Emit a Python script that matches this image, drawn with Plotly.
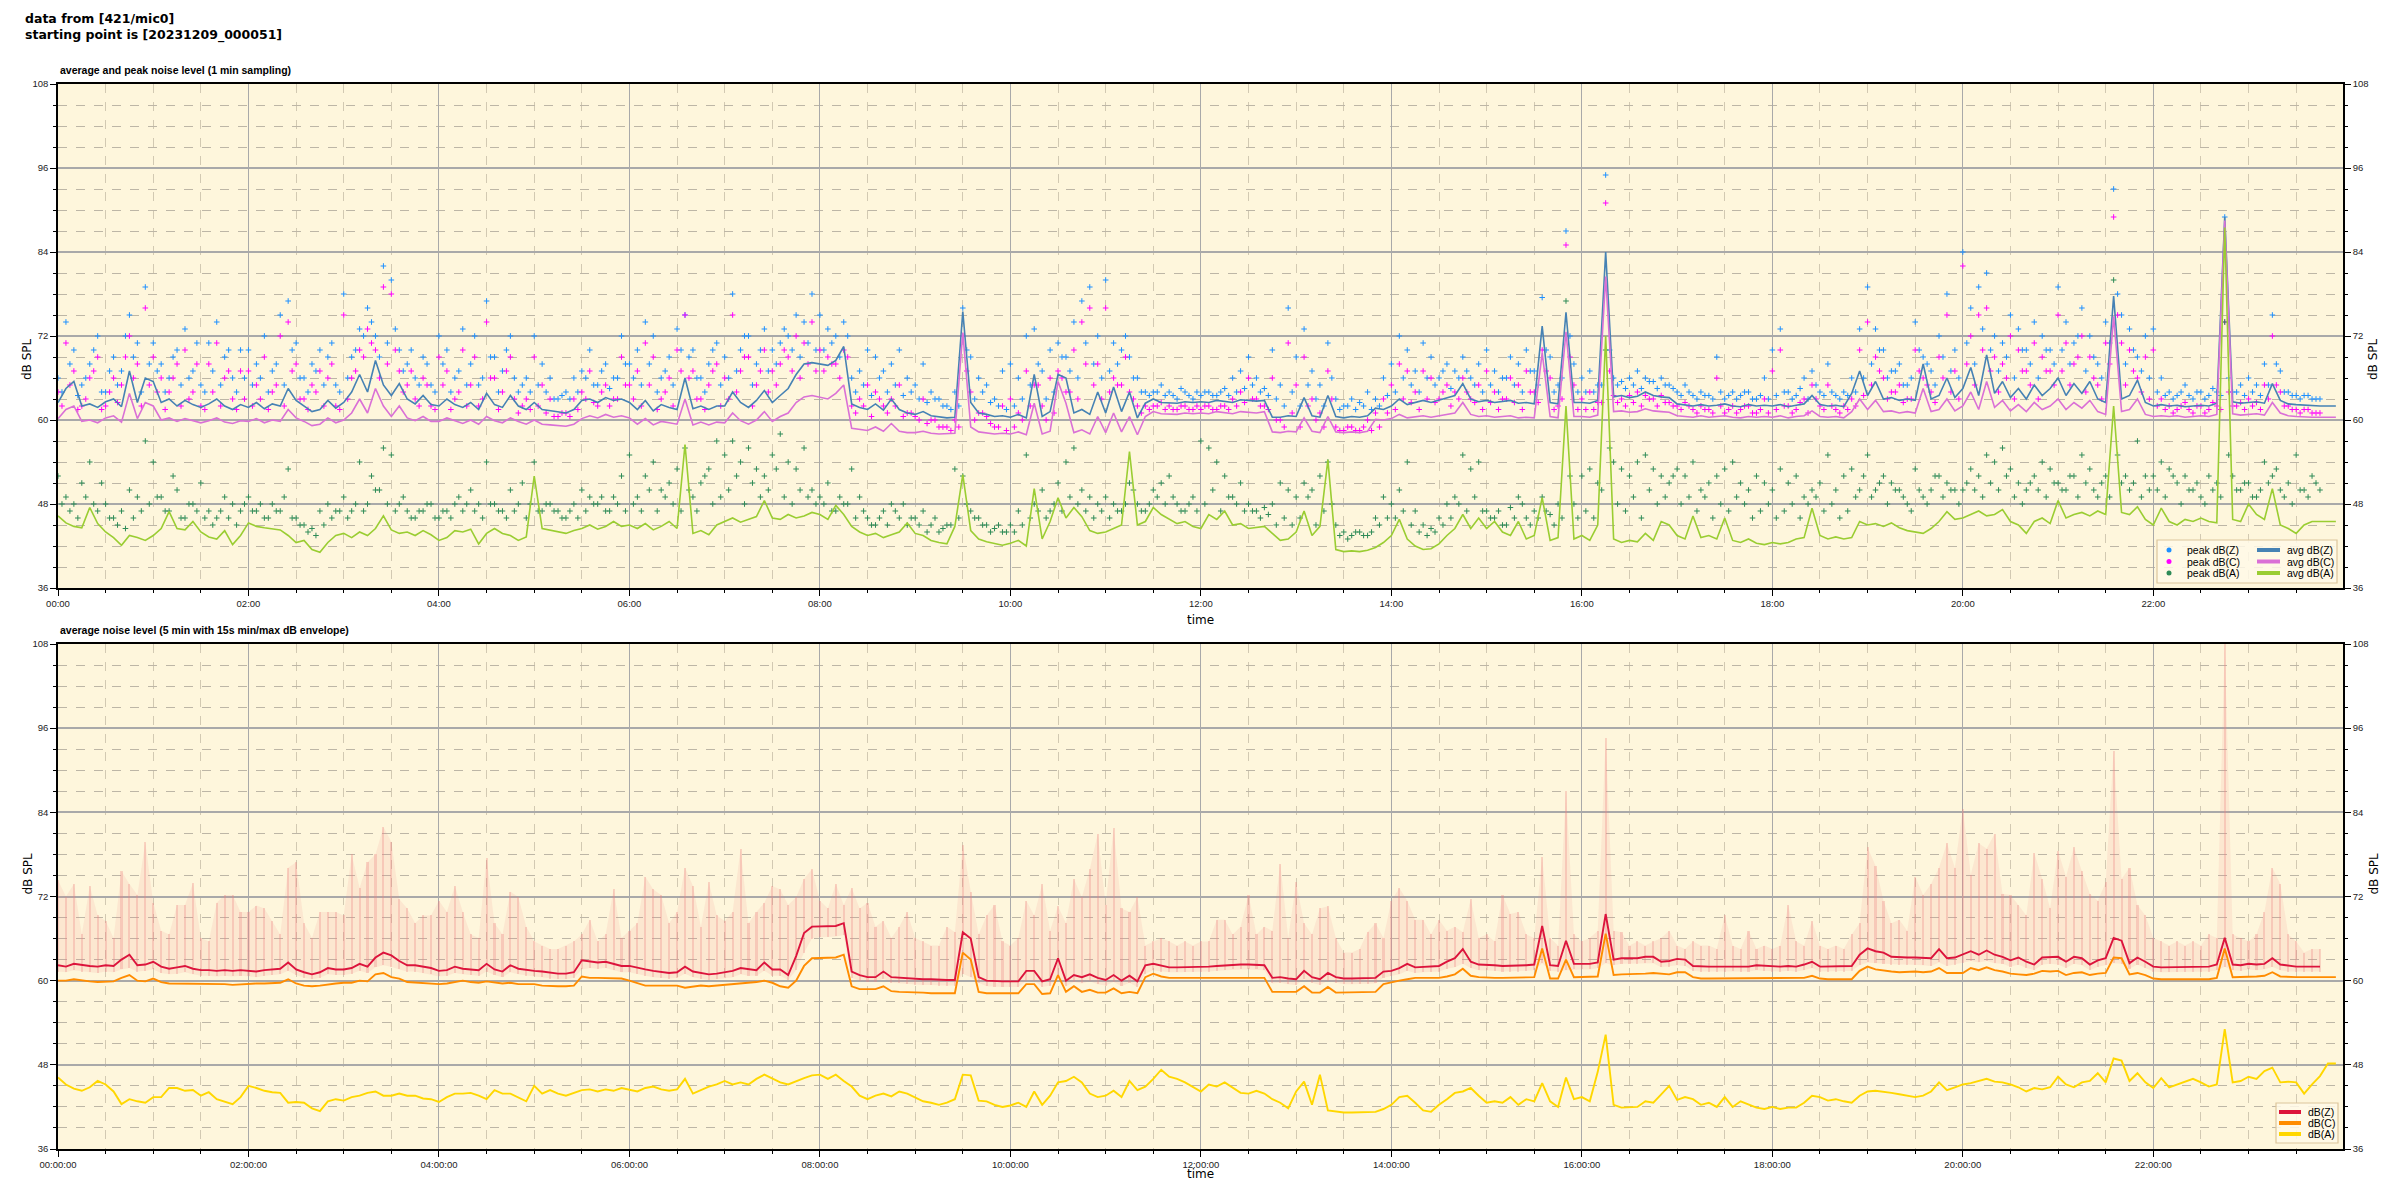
import pandas as pd
import plotly.graph_objects as go

# ---------------- data (5-min steps from 00:00) ----------------
AVG_Z = [
62.5, 64.5, 65.5, 62.0, 62.3, 61.8, 62.6, 63.0, 61.9, 67.0, 62.5, 66.0,
65.5, 62.5, 63.0, 62.0, 62.8, 62.2, 61.8, 62.3, 63.0, 62.0, 61.5, 62.2,
61.8, 62.5, 61.6, 62.3, 62.0, 64.5, 62.8, 62.0, 61.2, 61.5, 62.8, 61.7,
62.5, 64.0, 66.5, 64.0, 68.5, 65.0, 63.5, 65.2, 63.0, 62.3, 63.5, 62.2,
62.0, 63.0, 62.2, 61.8, 62.5, 61.5, 63.8, 62.2, 61.8, 63.5, 62.0, 61.5,
62.5, 61.5, 61.3, 61.2, 61.0, 61.5, 62.8, 63.0, 62.5, 63.2, 62.8, 63.0,
62.5, 61.5, 62.8, 61.3, 62.2, 61.8, 61.5, 66.0, 61.6, 62.0, 61.5, 62.0,
62.0, 64.0, 62.5, 61.8, 62.8, 64.2, 62.5, 63.5, 64.5, 66.5, 68.0, 68.2,
68.0, 67.8, 68.5, 70.5, 62.3, 61.8, 61.5, 62.3, 61.4, 63.0, 61.5, 61.0,
60.8, 61.2, 60.6, 60.5, 60.3, 60.4, 75.5, 62.5, 61.0, 60.8, 60.5, 60.6,
60.4, 60.8, 60.3, 66.5, 60.5, 61.2, 66.5, 66.0, 61.0, 61.5, 60.8, 64.0,
61.0, 64.7, 61.2, 64.0, 60.3, 62.4, 63.0, 62.5, 62.4, 62.4, 62.6, 62.5,
62.6, 62.5, 62.8, 62.6, 62.5, 62.9, 62.8, 62.7, 62.8, 60.4, 60.4, 60.6,
60.5, 63.2, 60.6, 60.4, 63.5, 60.5, 60.3, 60.5, 60.4, 60.6, 61.7, 61.5,
62.0, 63.0, 62.2, 62.5, 62.8, 62.5, 62.8, 63.2, 63.5, 65.2, 63.0, 62.6,
62.8, 62.5, 62.6, 62.8, 62.4, 62.5, 62.3, 73.4, 62.5, 62.3, 75.4, 62.5,
62.5, 62.4, 62.8, 84.0, 63.3, 63.5, 63.2, 63.4, 64.0, 63.5, 63.3, 63.2,
62.3, 62.1, 62.0, 62.2, 62.0, 62.1, 62.3, 62.0, 61.9, 62.2, 62.0, 62.1,
62.0, 62.2, 61.9, 62.1, 62.3, 63.5, 62.2, 62.0, 62.1, 61.9, 63.8, 67.0,
63.5, 65.5, 63.0, 63.2, 62.8, 63.0, 62.8, 68.0, 63.0, 63.5, 66.0, 63.2,
64.5, 67.5, 63.5, 69.3, 63.8, 65.5, 63.2, 64.5, 63.0, 65.0, 63.5, 64.5,
66.0, 63.5, 65.2, 63.8, 65.5, 63.0, 62.5, 77.7, 63.0, 63.5, 65.7, 62.5,
62.0, 62.2, 62.0, 62.1, 61.9, 62.0, 62.1, 62.0, 62.4, 89.0, 62.6, 62.4,
62.5, 62.6, 62.4, 65.2, 62.8, 62.3, 62.2, 62.1, 62.0, 62.0, 62.0, 62.0,
]

AVG_C = [
60.2, 61.5, 62.0, 59.8, 60.0, 59.6, 60.3, 60.6, 59.7, 63.8, 60.2, 62.5,
62.0, 60.0, 60.3, 59.8, 60.2, 59.9, 59.6, 59.9, 60.3, 59.7, 59.5, 59.9,
59.8, 60.2, 59.6, 60.0, 59.8, 61.5, 60.3, 59.8, 59.2, 59.4, 60.3, 59.6,
60.0, 61.0, 63.0, 61.0, 64.5, 62.0, 60.5, 62.0, 60.3, 59.9, 60.5, 59.8,
59.8, 60.3, 59.9, 59.5, 60.0, 59.4, 60.5, 59.9, 59.6, 60.3, 59.8, 59.4,
60.0, 59.4, 59.3, 59.2, 59.1, 59.4, 60.2, 60.6, 60.3, 60.8, 60.4, 60.6,
60.3, 59.4, 60.2, 59.3, 59.8, 59.6, 59.4, 63.0, 59.3, 59.7, 59.3, 59.7,
59.6, 61.0, 59.9, 59.4, 60.0, 61.2, 59.8, 60.5, 61.0, 62.5, 63.3, 63.5,
63.2, 63.0, 63.8, 65.0, 58.8, 58.6, 58.5, 59.0, 58.4, 59.5, 58.4, 58.2,
58.2, 58.4, 58.1, 58.0, 58.0, 58.1, 72.5, 59.0, 58.3, 58.2, 58.0, 58.1,
58.0, 58.3, 57.9, 62.4, 58.0, 58.4, 65.5, 62.4, 58.2, 58.6, 58.0, 60.5,
58.2, 61.0, 58.3, 60.5, 57.9, 60.5, 61.2, 60.9, 60.8, 60.8, 61.0, 60.9,
61.0, 60.9, 61.2, 61.0, 60.9, 61.2, 61.1, 61.0, 61.2, 58.3, 58.2, 58.4,
58.3, 60.3, 58.4, 58.2, 60.5, 58.3, 58.2, 58.3, 58.2, 58.4, 60.1, 60.0,
60.2, 60.8, 60.3, 60.5, 60.6, 60.4, 60.6, 60.9, 61.0, 62.5, 60.8, 60.5,
60.6, 60.4, 60.5, 60.6, 60.3, 60.4, 60.3, 69.6, 60.5, 60.3, 72.6, 60.5,
60.5, 60.4, 60.7, 80.5, 61.2, 61.3, 61.1, 61.2, 61.6, 61.3, 61.2, 61.1,
60.6, 60.5, 60.4, 60.6, 60.4, 60.5, 60.6, 60.4, 60.3, 60.5, 60.4, 60.5,
60.4, 60.6, 60.3, 60.5, 60.6, 61.3, 60.5, 60.4, 60.5, 60.3, 61.2, 63.0,
61.5, 62.8, 61.2, 61.3, 61.0, 61.2, 61.0, 64.5, 61.2, 61.5, 63.0, 61.3,
62.0, 64.0, 61.5, 65.5, 61.8, 62.8, 61.3, 62.2, 61.2, 62.5, 61.5, 62.0,
63.0, 61.5, 62.5, 61.7, 62.8, 61.2, 60.8, 74.8, 61.2, 61.5, 63.0, 60.8,
60.5, 60.6, 60.5, 60.6, 60.4, 60.5, 60.6, 60.5, 60.8, 88.5, 60.9, 60.7,
60.8, 60.9, 60.7, 62.5, 61.0, 60.6, 60.5, 60.4, 60.4, 60.4, 60.4, 60.4,
]

AVG_A = [
46.3, 45.3, 44.8, 44.6, 47.5, 45.2, 44.0, 43.2, 42.1, 43.5, 43.2, 42.8,
43.5, 44.5, 46.9, 44.5, 44.3, 45.5, 44.0, 43.3, 43.0, 44.2, 42.2, 43.5,
45.3, 44.8, 44.6, 44.5, 44.3, 43.5, 42.5, 42.8, 41.5, 41.1, 42.5, 43.5,
43.8, 43.2, 44.0, 43.5, 44.5, 46.3, 44.3, 43.8, 44.0, 43.5, 44.2, 43.6,
42.8, 43.2, 44.2, 44.0, 44.4, 42.3, 43.8, 44.5, 43.8, 43.5, 42.8, 43.3,
52.0, 44.5, 44.3, 44.0, 43.8, 44.2, 44.5, 45.0, 44.4, 44.8, 45.5, 44.8,
45.0, 44.5, 45.2, 44.3, 44.8, 45.5, 44.5, 56.5, 43.8, 44.2, 43.6, 45.0,
45.5, 46.0, 45.4, 45.8, 46.2, 48.5, 46.0, 45.8, 46.5, 46.0, 46.3, 46.8,
46.5, 45.8, 47.8, 46.5, 44.8, 44.0, 43.5, 43.8, 43.2, 43.6, 44.0, 45.3,
43.8, 43.5, 42.8, 42.5, 42.3, 44.8, 52.2, 44.2, 43.0, 42.6, 42.3, 42.1,
42.4, 42.8, 42.0, 50.2, 43.0, 45.5, 48.9, 46.0, 47.5, 46.2, 44.2, 43.8,
44.0, 44.5, 45.0, 55.5, 45.0, 45.5, 47.5, 46.5, 45.8, 45.2, 45.5, 44.8,
44.5, 46.5, 45.8, 47.0, 45.0, 45.2, 44.5, 44.6, 44.8, 43.8, 42.8, 43.0,
44.0, 47.0, 43.5, 44.8, 54.3, 41.5, 41.2, 41.3, 41.2, 41.4, 41.8, 42.5,
43.5, 45.8, 43.0, 42.0, 41.5, 41.6, 42.3, 43.5, 44.5, 46.5, 44.5, 46.0,
44.5, 45.5, 44.0, 43.5, 45.5, 43.0, 43.5, 48.9, 42.8, 43.2, 62.0, 43.0,
43.5, 42.8, 45.0, 72.0, 43.0, 42.5, 42.8, 42.6, 43.8, 42.8, 45.5, 45.0,
43.5, 43.0, 46.3, 43.2, 43.5, 43.0, 46.0, 42.8, 42.5, 43.0, 42.4, 42.2,
42.5, 42.3, 42.5, 43.0, 43.2, 47.4, 43.5, 43.0, 43.3, 43.0, 43.2, 45.5,
45.0, 45.2, 44.8, 45.3, 44.6, 44.2, 44.0, 43.8, 44.5, 45.5, 46.9, 45.8,
46.0, 46.5, 47.0, 46.3, 46.5, 47.2, 45.5, 45.0, 43.8, 45.5, 46.0, 45.2,
48.5, 46.0, 46.5, 46.8, 46.3, 47.0, 46.5, 62.0, 46.8, 46.5, 47.6, 45.8,
45.0, 47.4, 45.5, 45.0, 45.8, 45.5, 46.0, 45.5, 45.3, 87.5, 45.8, 45.5,
48.0, 46.5, 45.8, 50.2, 45.0, 44.5, 43.8, 45.0, 45.5, 45.5, 45.5, 45.5,
]

# peak values, first sample of each 5-min slot
PEAK_Z = [
66, 74, 70, 65, 68, 72, 64, 69, 67, 75, 71, 79,
71, 68, 66, 70, 73, 67, 65, 71, 74, 69, 66, 70,
70, 68, 72, 67, 75, 77, 71, 66, 68, 70, 69, 65,
78, 69, 73, 76, 72, 82, 80, 70, 68, 66, 69, 65,
72, 70, 66, 73, 68, 65, 77, 69, 67, 72, 64, 66,
72, 68, 66, 63, 64, 66, 67, 70, 65, 68, 66, 72,
68, 70, 74, 72, 66, 69, 73, 75, 70, 66, 68, 71,
69, 78, 70, 72, 68, 73, 70, 71, 72, 75, 74, 78,
75, 73, 72, 74, 66, 67, 70, 69, 67, 68, 70, 66,
65, 68, 64, 63, 62, 64, 76, 69, 66, 65, 63, 67,
68, 66, 72, 73, 67, 70, 71, 69, 74, 77, 79, 72,
80, 71, 70, 69, 66, 64, 64, 65, 64, 63, 64, 63,
63.5, 64, 63.5, 64.5, 66, 67, 69, 66, 64.5, 70, 65, 76,
69, 73, 67, 65, 71, 63, 62, 63, 62.5, 64, 63, 66,
68, 72, 70, 67, 71, 69, 66, 68, 67, 69, 66, 68,
70, 67, 66, 69, 68, 70, 67, 77.5, 69, 65, 87, 68,
66, 67, 65, 95, 66, 65.5, 66, 67, 66, 65.5, 66, 65,
64, 65, 63.5, 64, 63.5, 69, 63, 64, 63.5, 64, 63, 66,
70, 73, 64, 63.5, 66, 67, 64, 68, 63.5, 64, 66, 73,
79, 73, 70, 67, 68, 65, 74, 69, 67, 72, 78, 70,
84, 76, 79, 81, 72, 71, 75, 73, 70, 74, 72, 70,
79, 74, 71, 76, 72, 68, 74, 93, 75, 73, 69, 72,
73, 66, 64, 63.5, 65, 63, 64, 63.5, 64, 89, 64, 65,
66, 65, 68, 75, 67, 64, 63.5, 63.5, 63, 63, None, None,
]

PEAK_C = [
64, 71, 67, 62, 66, 69, 62, 66, 65, 72, 68, 76,
69, 66, 64, 68, 70, 64, 62, 68, 71, 66, 63, 67,
67, 65, 69, 64, 72, 74, 68, 63, 65, 67, 66, 62,
75, 66, 70, 73, 70, 79, 78, 67, 65, 63, 66, 62,
69, 67, 63, 70, 65, 62, 74, 66, 64, 69, 61, 63,
69, 65, 63, 60.5, 61, 63, 64, 67, 62, 65, 63, 69,
65, 67, 71, 69, 63, 66, 70, 75, 67, 63, 65, 68,
66, 75, 67, 69, 65, 70, 67, 68, 69, 72, 71, 74,
70, 69, 68, 70, 62, 63, 65, 64, 62, 63, 65, 61,
60.5, 63, 60, 59, 59, 60, 72, 64, 61, 60.5, 59, 62,
63, 61, 67, 65, 62, 66, 67, 64, 70, 74, 76, 68,
76, 66, 65, 64, 62, 62, 62, 62.5, 62, 61.5, 62, 61.5,
61.5, 62, 61.5, 62, 63, 64, 66, 63, 62, 66, 60, 71,
65, 69, 63, 61, 67, 59, 58.5, 59, 58.5, 60, 61, 63,
65, 68, 67, 64, 67, 66, 63, 65, 64, 66, 63, 65,
67, 64, 63, 66, 65, 67, 64, 70, 66, 62, 85, 65,
63, 64, 62.5, 91, 63.5, 63, 63.5, 64, 63.5, 63, 63.5, 62.5,
62, 62.5, 61.5, 62, 61.5, 66, 61, 62, 61.5, 62, 61, 63,
67, 70, 62, 61.5, 63, 65, 62, 65, 61.5, 62, 63, 70,
74, 69, 66, 64, 65, 63, 70, 66, 64, 69, 75, 67,
82, 72, 75, 76, 69, 68, 72, 70, 67, 71, 69, 67,
75, 71, 68, 72, 69, 65, 71, 89, 71, 70, 66, 69,
70, 63, 62, 61.5, 62.5, 61, 62, 61.5, 62, 74, 62, 62.5,
63, 62.5, 65, 72, 64, 62, 61.5, 61.5, 61, 61, None, None,
]

PEAK_A = [
52, 49, 48, 51, 54, 47, 48, 46, 47, 50, 49, 57,
54, 49, 47, 50, 46, 48, 51, 47, 46, 49, 48, 47,
49, 47, 46, 48, 47, 53, 46, 45, 44.5, 47, 48, 47,
49, 47, 54, 48, 50, 56, 55, 48, 47, 46, 47, 48,
46, 47, 48, 47, 50, 48, 54, 48, 47, 50, 48, 46,
54, 47, 48, 47, 46, 48, 50, 49, 48, 47, 49, 52,
55, 49, 52, 54, 50, 51, 53, 56, 49, 51, 53, 57,
55, 57, 54, 56, 53, 52, 55, 58, 54, 53, 56, 50,
49, 51, 47, 48, 53, 49, 46, 45, 47, 48, 46, 45,
46, 47, 45, 44, 45, 53, 52, 47, 46, 45, 44.5, 44,
45, 47, 55, 48, 50, 47, 51, 54, 56, 50, 49, 48,
49, 48, 47, 51, 48, 47, 50, 51, 52, 48, 47, 49,
57, 56, 54, 52, 49, 51, 48, 47, 47.5, 48, 51, 50,
49, 51, 50, 52, 54, 45, 44, 43.5, 44, 43.5, 46, 49,
48, 50, 54, 47, 45, 44.5, 46, 48, 49, 55, 53, 54,
47, 46, 45, 47.5, 49, 46, 47, 49, 46.5, 48, 77, 48,
52, 53, 51, 70, 54, 53, 52, 54, 55, 53, 52, 51,
53, 52, 54, 50, 51, 52, 53, 54, 51, 50, 52, 51,
50, 53, 51, 52, 49, 50, 51, 55, 50, 52, 53, 50,
55, 50, 52, 51, 50, 48, 53, 49, 50, 52, 51, 50,
50, 53, 52, 55, 54, 56, 53, 51, 50, 52, 54, 53,
51, 50, 52, 55, 53, 49, 52, 80, 51, 50, 57, 52,
52, 54, 53, 51, 52, 50, 49, 52, 51, 74, 52, 50,
51, 49, 54, 52, 50, 51, 55, 50, 52, 50, None, None,
]

# peak values, second sample of each 5-min slot (+2.5 min)
PEAK_Z_B = [
64, 68, 63.5, 66, 70, 64, 67, 65, 72, 69, 64, 68,
67, 64, 69, 65, 66, 71, 64, 67, 65, 70, 64, 66,
65, 66, 64, 68, 65, 70, 66, 64, 67, 65, 71, 64,
66, 70, 72, 74, 69, 71, 73, 67, 70, 65, 68, 64,
68, 64, 67, 65, 72, 66, 69, 64, 70, 66, 65, 64,
65, 64, 63, 63.5, 63, 64, 66, 65, 67, 64.5, 66, 68,
66, 65, 68, 64, 67, 65, 70, 69, 66, 64, 70, 65,
66, 67, 72, 65, 70, 67, 68, 73, 70, 69, 71, 70,
70, 71, 69, 72, 64, 65, 63.5, 66, 64, 65, 63.5, 64,
63, 62.5, 63, 62, 61.5, 62, 70, 63, 64, 62.5, 62, 61.5,
62, 63, 65, 68, 63, 64, 69, 67, 66, 71, 68, 66,
67, 68, 72, 66, 64, 63.5, 64, 63.5, 63.5, 64.5, 63.5, 64,
64, 63.5, 64, 63.5, 64, 64.5, 65, 64, 63.5, 63, 62, 64,
62, 65, 63, 62, 66, 61.5, 62, 61.5, 62, 61.5, 62, 63.5,
64, 66, 65, 64, 66, 65, 67, 64.5, 66, 67, 65, 64,
65, 64, 66, 65, 64, 67, 65, 70, 64, 66, 72, 64,
64, 64, 65, 70, 65, 64.5, 65, 64.5, 65.5, 64.5, 65, 64.5,
63.5, 64, 63, 63.5, 63, 64, 63.5, 63, 64, 63, 63.5, 63,
63.5, 64, 63, 64.5, 63, 65, 63.5, 64, 63, 63.5, 64, 66,
68, 70, 66, 67, 65, 66, 70, 68, 65, 69, 67, 66,
71, 68, 73, 70, 67, 69, 66, 70, 68, 66, 70, 68,
70, 68, 72, 67, 69, 66, 71, 78, 68, 70, 67, 66,
64, 63.5, 63, 64, 63.5, 64, 63, 64.5, 63.5, 66, 64, 63.5,
64, 63.5, 65, 68, 64, 63.5, 63, 63.5, 63, None, None, None,
]

PEAK_C_B = [
62, 65, 61.5, 63, 67, 61.5, 64, 62.5, 69, 66, 62, 65,
64, 61.5, 66, 62, 63, 68, 61.5, 64, 62, 67, 61.5, 63,
62, 63, 61.5, 65, 62, 67, 63, 61.5, 64, 62, 68, 61.5,
63, 67, 69, 71, 66, 68, 70, 64, 67, 62, 65, 61.5,
65, 61.5, 64, 62, 69, 63, 66, 61.5, 67, 63, 62, 61.5,
62, 61, 60.5, 61, 60.5, 61.5, 63, 62.5, 64, 62, 63, 65,
63, 62, 65, 61.5, 64, 62, 67, 66, 63, 61.5, 67, 62,
63, 64, 69, 62, 67, 64, 65, 70, 67, 66, 68, 67,
67, 68, 66, 69, 61, 62, 60.5, 63, 61, 62, 60.5, 61,
60, 59.5, 60, 59, 58.5, 59, 67, 60, 61, 59.5, 59, 58.5,
59, 60, 62, 65, 60, 61, 66, 64, 63, 68, 65, 63,
64, 65, 69, 63, 61, 61.5, 62, 61.5, 61.5, 62, 61.5, 62,
62, 61.5, 62, 61.5, 62, 62.5, 63, 62, 61.5, 60, 59, 61,
59, 62, 60, 59, 63, 58.5, 59, 58.5, 59, 58.5, 59, 61,
61.5, 63, 62.5, 61.5, 63, 62.5, 64, 62, 63, 64, 62.5, 61.5,
62.5, 61.5, 63, 62.5, 61.5, 64, 62.5, 67, 61.5, 63, 69, 61.5,
61.5, 61.5, 62.5, 67, 62.5, 62, 62.5, 62, 63, 62, 62.5, 62,
61.5, 62, 61, 61.5, 61, 62, 61.5, 61, 62, 61, 61.5, 61,
61.5, 62, 61, 62.5, 61, 63, 61.5, 62, 61, 61.5, 62, 63.5,
65, 67, 63, 64, 62.5, 63, 67, 65, 62.5, 66, 64, 63,
68, 65, 70, 67, 64, 66, 63, 67, 65, 63, 67, 65,
67, 65, 69, 64, 66, 63, 68, 75, 65, 67, 64, 63,
62, 61.5, 61, 62, 61.5, 62, 61, 62.5, 61.5, 64, 62, 61.5,
62, 61.5, 63, 65, 62, 61.5, 61, 61.5, 61, None, None, None,
]

PEAK_A_B = [
48, 47, 46, 49, 48, 51, 46, 45, 44.5, 46, 47, 48,
49, 47, 52, 46, 48, 47, 46, 45, 47, 46, 45, 48,
47, 48, 46, 47, 49, 46, 45, 44, 43.5, 45, 46, 47,
46, 48, 47, 52, 50, 48, 47, 49, 46, 47, 48, 46,
47, 46, 49, 48, 47, 46, 48, 47, 46, 47, 51, 48,
47, 48, 47, 46, 47, 46, 47, 48, 49, 47, 48, 47,
48, 47, 50, 47, 49, 48, 47, 50, 47, 52, 48, 49,
50, 52, 48, 51, 49, 50, 53, 49, 48, 50, 49, 48,
48, 47, 49, 48, 46, 47, 45, 46, 45, 47, 48, 46,
45, 44, 46, 44.5, 45, 46, 48, 46, 45, 44, 45, 44,
44, 45, 46, 47, 46, 48, 47, 49, 48, 47, 46, 47,
46, 47, 48, 50, 47, 48, 49, 48, 49, 47, 48, 47,
48, 50, 47, 49, 48, 47, 47, 46, 46.5, 45, 46, 45,
46, 49, 45, 47, 48, 43.5, 43, 44, 43.5, 44, 45, 46,
46, 47, 45, 44, 43.5, 44, 45, 46, 48, 47, 49, 47,
46, 47, 45, 46, 48, 45, 46, 47, 45, 46, 52, 46,
47, 46, 50, 56, 48, 47, 49, 46, 50, 48, 49, 52,
48, 49, 47, 49, 46, 48, 47, 49, 48, 46, 47, 48,
46, 47, 48, 46, 48, 49, 47, 48, 46, 47, 49, 52,
49, 51, 48, 50, 49, 47, 50, 48, 52, 49, 50, 48,
51, 50, 49, 51, 50, 52, 49, 48, 51, 50, 49, 51,
50, 52, 49, 51, 50, 51, 49, 55, 52, 51, 49, 50,
50, 49, 52, 48, 50, 51, 48, 50, 49, 55, 50, 51,
49, 50, 51, 53, 49, 48, 50, 49, 51, None, None, None,
]

LVL_Z = [
62.2, 62.0, 62.4, 62.2, 62.1, 62.0, 62.2, 62.1, 63.0, 63.7, 62.2, 62.3,
62.7, 62.0, 61.7, 61.9, 62.1, 61.7, 61.5, 61.5, 61.4, 61.5, 61.4, 61.5,
61.4, 61.3, 61.5, 61.6, 61.7, 62.6, 61.6, 61.2, 60.9, 61.2, 61.8, 61.6,
61.6, 61.8, 62.4, 62.0, 63.3, 64.0, 63.6, 62.8, 62.2, 62.2, 62.0, 61.8,
61.4, 61.5, 62.0, 61.7, 61.6, 61.5, 62.4, 61.6, 61.3, 62.2, 61.7, 61.5,
61.4, 61.3, 61.1, 61.0, 61.0, 61.2, 62.9, 62.7, 62.6, 62.7, 62.4, 62.1,
62.1, 61.8, 61.6, 61.4, 61.2, 61.1, 61.2, 62.0, 61.3, 61.1, 60.9, 61.0,
61.2, 61.4, 61.8, 61.6, 61.5, 62.6, 61.6, 61.6, 60.8, 63.5, 66.8, 67.7,
67.7, 67.7, 67.8, 68.2, 61.3, 60.8, 60.5, 60.5, 61.3, 60.5, 60.4, 60.3,
60.2, 60.2, 60.2, 60.1, 60.1, 60.1, 66.9, 66.0, 60.5, 60.0, 59.9, 59.9,
59.9, 59.9, 61.4, 61.4, 59.9, 60.2, 63.2, 60.0, 60.8, 60.5, 60.9, 60.4,
60.1, 60.8, 60.0, 60.7, 59.9, 62.2, 62.4, 62.1, 61.9, 61.9, 61.9, 61.9,
62.0, 62.0, 62.1, 62.2, 62.3, 62.3, 62.3, 62.3, 62.2, 60.4, 60.5, 60.3,
60.2, 61.4, 60.5, 60.2, 61.1, 60.5, 60.3, 60.3, 60.3, 60.3, 60.4, 61.3,
61.4, 61.8, 62.4, 61.9, 62.0, 62.1, 62.1, 62.7, 63.2, 64.5, 62.7, 62.3,
62.3, 62.2, 62.1, 62.1, 62.1, 62.2, 62.3, 67.8, 62.2, 62.1, 65.7, 62.4,
62.4, 62.4, 62.6, 69.5, 63.0, 63.2, 63.2, 63.2, 63.4, 63.4, 62.7, 62.8,
63.1, 63.0, 62.1, 62.0, 62.0, 62.0, 62.0, 62.1, 62.0, 62.0, 62.2, 62.1,
62.0, 62.0, 62.1, 62.0, 62.3, 62.7, 62.0, 62.0, 62.0, 62.0, 62.1, 63.7,
64.6, 64.2, 64.0, 63.4, 63.3, 63.3, 63.3, 63.3, 63.2, 64.5, 63.2, 63.3,
63.7, 64.2, 63.7, 64.3, 63.7, 63.4, 62.9, 63.3, 62.7, 62.3, 63.3, 63.4,
63.4, 62.7, 63.4, 63.2, 62.3, 62.9, 63.2, 66.1, 65.7, 62.5, 63.3, 62.7,
62.0, 61.9, 61.9, 61.9, 61.9, 61.9, 61.9, 62.0, 62.3, 66.1, 62.3, 62.2,
62.4, 62.3, 62.4, 63.2, 62.3, 62.1, 62.0, 62.0, 62.0, 62.0, None, None,
]

LVL_C = [
60.0, 60.0, 60.2, 60.0, 59.9, 59.8, 59.9, 59.9, 60.4, 60.8, 60.0, 59.9,
60.3, 59.8, 59.6, 59.6, 59.5, 59.5, 59.5, 59.5, 59.5, 59.5, 59.4, 59.5,
59.5, 59.6, 59.6, 59.6, 59.7, 60.2, 59.6, 59.3, 59.2, 59.3, 59.5, 59.6,
59.7, 59.7, 60.0, 59.9, 60.9, 61.1, 60.5, 60.3, 59.8, 59.7, 59.7, 59.6,
59.5, 59.6, 59.8, 60.0, 59.8, 59.7, 59.9, 59.8, 59.6, 59.7, 59.5, 59.5,
59.5, 59.3, 59.2, 59.2, 59.2, 59.3, 60.6, 60.4, 60.4, 60.4, 60.4, 60.3,
60.0, 59.6, 59.3, 59.3, 59.3, 59.2, 59.3, 59.0, 59.2, 59.3, 59.2, 59.3,
59.3, 59.5, 59.6, 59.7, 59.8, 60.0, 59.7, 59.2, 59.0, 60.0, 62.1, 63.2,
63.2, 63.2, 63.3, 63.7, 59.2, 58.8, 58.8, 58.8, 59.2, 58.5, 58.4, 58.4,
58.3, 58.3, 58.2, 58.2, 58.2, 58.2, 64.0, 63.0, 58.4, 58.2, 58.2, 58.2,
58.2, 58.2, 59.5, 59.5, 58.1, 58.2, 60.8, 58.4, 59.2, 58.4, 58.7, 58.3,
58.3, 58.9, 58.2, 58.4, 58.2, 60.5, 61.0, 60.6, 60.4, 60.4, 60.4, 60.4,
60.4, 60.4, 60.4, 60.5, 60.5, 60.5, 60.5, 60.5, 60.4, 58.4, 58.4, 58.4,
58.4, 59.2, 58.3, 58.3, 59.1, 58.3, 58.3, 58.3, 58.3, 58.3, 58.4, 59.5,
59.8, 60.0, 60.2, 60.4, 60.4, 60.4, 60.4, 60.6, 60.9, 61.7, 60.7, 60.5,
60.4, 60.4, 60.4, 60.4, 60.4, 60.5, 60.5, 64.6, 60.3, 60.3, 63.0, 60.5,
60.5, 60.5, 60.6, 66.7, 60.8, 60.9, 60.9, 60.9, 61.0, 61.1, 61.0, 60.9,
61.2, 61.2, 60.5, 60.3, 60.3, 60.3, 60.3, 60.3, 60.3, 60.3, 60.3, 60.3,
60.4, 60.4, 60.4, 60.3, 60.4, 60.7, 60.3, 60.2, 60.2, 60.2, 60.2, 61.4,
62.0, 61.6, 61.4, 61.3, 61.2, 61.3, 61.3, 61.2, 61.3, 61.8, 61.1, 61.1,
61.1, 61.8, 61.5, 61.9, 61.5, 61.3, 61.0, 60.9, 60.8, 61.0, 61.4, 61.3,
61.4, 60.8, 61.1, 61.2, 60.8, 61.0, 61.1, 63.3, 63.2, 60.9, 61.1, 60.8,
60.3, 60.2, 60.2, 60.2, 60.2, 60.2, 60.2, 60.2, 60.4, 64.6, 60.5, 60.5,
60.6, 60.6, 60.7, 61.2, 60.6, 60.5, 60.5, 60.5, 60.5, 60.5, 60.5, 60.5,
]

LVL_A = [
46.2, 45.2, 44.6, 44.3, 44.8, 45.7, 45.2, 44.2, 42.4, 43.1, 42.8, 42.6,
43.4, 43.4, 44.7, 44.7, 44.3, 44.4, 43.6, 44.1, 43.1, 42.8, 42.4, 43.4,
45.0, 44.7, 44.3, 44.1, 44.0, 42.6, 42.7, 42.6, 41.8, 41.4, 42.8, 43.1,
42.9, 43.4, 43.6, 44.0, 44.2, 43.6, 43.6, 43.9, 43.6, 43.6, 43.2, 43.1,
42.7, 43.4, 43.9, 43.9, 44.0, 43.6, 43.1, 44.4, 43.9, 43.9, 43.4, 42.8,
45.0, 43.9, 44.4, 43.9, 43.6, 44.0, 44.4, 44.5, 44.2, 44.5, 44.3, 44.7,
44.5, 44.2, 44.7, 44.9, 44.5, 44.3, 44.5, 46.0, 43.9, 44.4, 44.9, 45.2,
45.7, 45.2, 45.5, 45.2, 46.0, 46.6, 46.0, 45.5, 45.2, 45.7, 46.1, 46.5,
46.6, 46.0, 46.6, 45.7, 44.9, 43.6, 43.1, 43.6, 43.9, 43.5, 44.2, 43.9,
43.4, 42.8, 42.6, 42.3, 42.6, 43.1, 46.6, 46.5, 42.9, 42.8, 42.3, 42.0,
42.2, 42.6, 42.0, 44.2, 42.3, 43.6, 45.5, 45.7, 46.3, 45.5, 43.9, 43.4,
43.6, 44.3, 43.4, 45.7, 44.4, 44.9, 46.0, 47.3, 46.3, 46.0, 45.5, 44.9,
44.2, 45.2, 44.9, 45.5, 44.7, 44.0, 43.9, 44.3, 43.9, 43.1, 42.6, 41.8,
44.2, 45.6, 42.3, 46.6, 41.5, 41.3, 41.2, 41.2, 41.2, 41.3, 41.3, 41.7,
42.3, 43.4, 43.6, 42.6, 41.5, 41.3, 42.3, 43.1, 44.0, 44.2, 44.7, 43.6,
42.6, 42.8, 42.6, 43.4, 42.3, 43.1, 42.8, 45.4, 42.8, 42.0, 46.2, 43.1,
43.4, 42.8, 47.0, 52.3, 42.3, 41.9, 42.0, 42.0, 42.8, 42.6, 43.8, 45.0,
43.0, 43.4, 43.1, 42.3, 42.6, 42.0, 43.4, 42.0, 42.8, 42.3, 41.9, 41.7,
42.0, 41.7, 41.9, 41.9, 42.6, 43.6, 43.4, 42.9, 43.1, 42.8, 42.6, 43.6,
44.2, 44.3, 44.2, 44.0, 43.8, 43.6, 43.4, 43.6, 44.2, 45.5, 44.4, 44.8,
45.2, 45.4, 45.7, 46.0, 45.6, 45.5, 45.2, 44.8, 44.2, 44.7, 44.5, 44.8,
46.3, 45.2, 44.8, 45.5, 45.7, 46.8, 45.5, 48.9, 48.6, 45.7, 46.8, 45.5,
44.7, 46.1, 44.8, 45.2, 45.5, 46.0, 45.5, 44.9, 45.2, 53.1, 45.5, 45.7,
46.3, 46.0, 47.1, 47.6, 45.5, 45.6, 45.5, 43.9, 45.2, 46.4, 48.2, 48.2,
]

ENV_MAX = [
74.3, 72.0, 73.8, 66.6, 73.5, 69.3, 68.5, 66.1, 75.6, 73.8, 72.2, 79.7,
71.1, 67.1, 66.6, 70.8, 70.8, 73.9, 66.1, 65.6, 71.1, 72.2, 72.2, 69.8,
69.8, 70.7, 70.3, 68.5, 66.6, 76.1, 76.9, 68.2, 66.1, 69.8, 69.8, 69.8,
69.3, 78.0, 73.2, 76.9, 78.0, 81.9, 79.8, 71.6, 70.3, 68.2, 69.3, 69.3,
71.4, 69.8, 73.5, 69.8, 66.6, 66.1, 77.5, 68.2, 66.6, 72.7, 71.9, 67.7,
65.6, 65.0, 64.5, 64.5, 65.0, 65.6, 66.6, 68.7, 65.6, 66.6, 73.0, 66.1,
67.1, 68.2, 74.8, 73.0, 72.2, 68.2, 69.8, 76.1, 73.5, 67.7, 74.0, 69.3,
68.5, 69.8, 78.8, 68.2, 69.8, 71.1, 73.5, 73.0, 70.8, 71.9, 74.5, 75.9,
71.4, 70.3, 73.8, 70.8, 73.2, 70.3, 71.1, 67.7, 68.5, 66.1, 67.7, 69.8,
66.1, 65.6, 65.0, 65.0, 67.7, 66.9, 79.4, 72.7, 66.6, 69.3, 70.8, 65.6,
65.0, 66.1, 71.4, 69.3, 73.8, 67.1, 70.6, 68.2, 74.5, 71.9, 75.9, 80.9,
70.8, 81.7, 70.3, 69.8, 71.9, 65.0, 65.6, 66.1, 65.6, 65.0, 65.6, 65.0,
65.6, 65.6, 68.7, 68.7, 66.6, 67.7, 72.2, 66.6, 67.7, 67.1, 76.7, 66.1,
74.0, 68.2, 66.6, 70.3, 70.6, 66.1, 64.0, 64.0, 64.5, 66.9, 68.2, 66.1,
71.4, 73.2, 71.4, 68.7, 68.7, 66.6, 68.7, 67.1, 67.7, 66.9, 71.6, 66.1,
66.6, 65.6, 72.2, 69.5, 69.8, 66.6, 66.1, 77.6, 66.1, 65.0, 87.0, 66.6,
65.6, 66.1, 67.1, 94.6, 67.1, 66.9, 65.0, 65.6, 65.0, 65.6, 66.1, 67.1,
65.0, 64.5, 65.6, 65.0, 65.0, 64.5, 69.3, 65.0, 64.5, 67.1, 64.5, 65.0,
64.5, 65.0, 70.8, 65.6, 65.0, 68.5, 65.0, 64.5, 65.0, 64.5, 66.6, 68.2,
79.0, 76.4, 71.4, 68.2, 68.7, 67.1, 74.8, 72.2, 73.8, 76.1, 79.6, 76.1,
84.5, 75.1, 79.6, 78.8, 80.9, 72.4, 72.2, 70.8, 69.3, 78.2, 74.5, 70.3,
78.5, 74.8, 79.0, 75.6, 72.4, 71.4, 74.0, 92.8, 74.5, 76.1, 70.8, 69.3,
66.1, 65.6, 65.0, 65.6, 65.0, 65.6, 65.0, 66.6, 66.1, 108.0, 66.6, 66.1,
65.6, 66.6, 69.8, 76.1, 73.8, 66.6, 65.6, 64.0, 64.5, 64.5, None, None,
]

ENV_MIN = [
61.3, 61.2, 61.5, 61.3, 61.2, 61.1, 61.3, 61.2, 61.6, 61.8, 61.3, 61.4,
61.6, 61.1, 60.9, 61.0, 61.2, 60.9, 60.7, 60.7, 60.6, 60.7, 60.6, 60.7,
60.6, 60.5, 60.7, 60.8, 60.9, 61.4, 60.8, 60.4, 60.2, 60.4, 60.9, 60.8,
60.8, 61.0, 61.4, 61.1, 61.9, 62.2, 62.0, 61.6, 61.3, 61.3, 61.1, 60.9,
60.6, 60.7, 61.1, 60.9, 60.8, 60.7, 61.3, 60.8, 60.5, 61.2, 60.9, 60.7,
60.6, 60.5, 60.3, 60.2, 60.2, 60.4, 61.6, 61.8, 61.7, 61.8, 61.5, 61.2,
61.2, 60.9, 60.7, 60.5, 60.4, 60.3, 60.4, 61.0, 60.5, 60.3, 60.1, 60.2,
60.4, 60.5, 60.9, 60.7, 60.7, 61.4, 60.7, 60.7, 60.1, 61.5, 64.0, 66.0,
66.2, 66.2, 66.3, 66.5, 60.4, 60.0, 59.8, 59.8, 60.3, 59.7, 59.6, 59.5,
59.4, 59.4, 59.4, 59.3, 59.3, 59.3, 61.0, 60.5, 59.7, 59.2, 59.1, 59.1,
59.1, 59.1, 60.0, 60.0, 59.1, 59.3, 60.5, 59.2, 59.8, 59.6, 59.9, 59.5,
59.3, 59.8, 59.2, 59.7, 59.1, 61.0, 61.5, 61.3, 61.2, 61.2, 61.2, 61.2,
61.3, 61.3, 61.4, 61.5, 61.6, 61.6, 61.6, 61.6, 61.5, 59.6, 59.7, 59.5,
59.4, 60.2, 59.7, 59.4, 60.0, 59.7, 59.5, 59.5, 59.5, 59.5, 59.6, 60.4,
60.6, 60.9, 61.4, 61.1, 61.2, 61.3, 61.3, 61.7, 61.9, 62.4, 61.8, 61.5,
61.5, 61.4, 61.3, 61.3, 61.3, 61.4, 61.5, 62.5, 61.4, 61.3, 61.5, 61.6,
61.6, 61.6, 61.8, 62.5, 62.2, 62.4, 62.4, 62.4, 62.5, 62.5, 61.9, 62.0,
62.2, 62.1, 61.4, 61.3, 61.3, 61.3, 61.3, 61.4, 61.3, 61.3, 61.5, 61.4,
61.3, 61.3, 61.4, 61.3, 61.5, 61.8, 61.3, 61.3, 61.3, 61.3, 61.4, 62.2,
62.6, 62.5, 62.4, 62.3, 62.3, 62.3, 62.3, 62.2, 62.1, 62.6, 62.1, 62.3,
62.5, 62.8, 62.6, 62.8, 62.5, 62.4, 62.0, 62.3, 61.8, 61.5, 62.3, 62.4,
62.3, 61.8, 62.4, 62.2, 61.5, 62.0, 62.2, 62.5, 62.4, 61.7, 62.3, 61.8,
61.3, 61.2, 61.2, 61.2, 61.2, 61.2, 61.2, 61.3, 61.5, 62.0, 61.5, 61.4,
61.6, 61.5, 61.6, 62.0, 61.5, 61.3, 61.3, 61.3, 61.3, 61.3, None, None,
]

Y_TICKS = [36, 48, 60, 72, 84, 96, 108]
TOP_LEGEND = [("peak dB(Z)", "#1e90ff", "avg dB(Z)", "#4682b4"),
              ("peak dB(C)", "#ff00ff", "avg dB(C)", "#da70d6"),
              ("peak dB(A)", "#2e8b57", "avg dB(A)", "#9acd32")]
BOT_LEGEND = [("dB(Z)", "#dc143c"), ("dB(C)", "#ff8c00"), ("dB(A)", "#ffd700")]

# ---------------- figure ----------------
times = pd.date_range("2023-12-09 00:00:00", periods=len(AVG_Z), freq="5min")
times_b = times + pd.Timedelta(seconds=150)
X_RANGE = ["2023-12-09 00:00:00", "2023-12-09 23:59:30"]

# the page body adds an 8 px margin; figure is sized so the page is exactly 2400x1200
OFF = 8
W, H = 2400 - 2 * OFF, 1200 - 2 * OFF
BG = "#fef6dc"
SANS = "Liberation Sans, Arial, sans-serif"
DEJA = "DejaVu Sans, sans-serif"

def px(x):
    return (x - OFF) / W

def py(y):
    return 1 - (y - OFF) / H

fig = go.Figure()

def pts(name, xs, vals, color):
    fig.add_trace(go.Scatter(
        x=xs, y=vals, mode="markers", name=name, showlegend=False,
        marker=dict(symbol="cross-thin", size=4, line=dict(width=1, color=color), color=color),
        xaxis="x", yaxis="y"))

def line(name, vals, color, width, xa, ya):
    fig.add_trace(go.Scatter(
        x=times, y=vals, mode="lines", name=name, showlegend=False,
        line=dict(color=color, width=width), xaxis=xa, yaxis=ya))

pts("peak dB(Z)", times, PEAK_Z, "#1e90ff")
pts("peak dB(Z)", times_b, PEAK_Z_B, "#1e90ff")
pts("peak dB(C)", times, PEAK_C, "#ff00ff")
pts("peak dB(C)", times_b, PEAK_C_B, "#ff00ff")
pts("peak dB(A)", times, PEAK_A, "#2e8b57")
pts("peak dB(A)", times_b, PEAK_A_B, "#2e8b57")
line("avg dB(Z)", AVG_Z, "#4682b4", 1.6, "x", "y")
line("avg dB(C)", AVG_C, "#da70d6", 1.6, "x", "y")
line("avg dB(A)", AVG_A, "#9acd32", 1.6, "x", "y")

# envelope (haze + thin spikes)
idx = [i for i, v in enumerate(ENV_MAX) if v is not None]
ex = [times[i] for i in idx]
fig.add_trace(go.Scatter(x=ex, y=[ENV_MIN[i] for i in idx], mode="lines",
                         line=dict(width=0, color="rgba(0,0,0,0)"),
                         showlegend=False, xaxis="x2", yaxis="y2", hoverinfo="skip"))
fig.add_trace(go.Scatter(x=ex, y=[ENV_MAX[i] for i in idx], mode="lines",
                         line=dict(width=0, color="rgba(0,0,0,0)"),
                         fill="tonexty", fillcolor="rgba(240,128,128,0.13)",
                         showlegend=False, xaxis="x2", yaxis="y2", hoverinfo="skip"))
fig.add_trace(go.Bar(x=ex, base=[ENV_MIN[i] for i in idx],
                     y=[ENV_MAX[i] - ENV_MIN[i] for i in idx], width=80000,
                     marker=dict(color="rgba(240,128,128,0.30)", line=dict(width=0)),
                     showlegend=False, xaxis="x2", yaxis="y2", hoverinfo="skip"))
line("dB(Z)", LVL_Z, "#dc143c", 1.9, "x2", "y2")
line("dB(C)", LVL_C, "#ff8c00", 1.9, "x2", "y2")
line("dB(A)", LVL_A, "#ffd700", 1.9, "x2", "y2")

# right-side axes anchors
fig.add_trace(go.Scatter(x=[times[0]], y=[None], xaxis="x", yaxis="y3", showlegend=False, hoverinfo="skip"))
fig.add_trace(go.Scatter(x=[times[0]], y=[None], xaxis="x2", yaxis="y4", showlegend=False, hoverinfo="skip"))

XD = [px(58), px(2343)]
TOP_D = [py(588), py(84)]
BOT_D = [py(1149), py(644)]

tickfont = dict(family=SANS, size=9.5, color="#222")

def xaxis(anchor, fmt):
    return dict(
        domain=XD, anchor=anchor, type="date", range=X_RANGE, automargin=False,
        tick0="2023-12-09 00:00:00", dtick=2 * 3600 * 1000, tickformat=fmt,
        ticks="outside", ticklen=6, tickcolor="#000", tickfont=tickfont,
        showline=True, linecolor="#000", linewidth=1.5, mirror=True,
        showgrid=True, gridcolor="#a9a9a9", gridwidth=1.2, zeroline=False,
        minor=dict(dtick=30 * 60 * 1000, tick0="2023-12-09 00:00:00", showgrid=True,
                   gridcolor="#d2c9b2", griddash="dash", gridwidth=0.8,
                   ticks="outside", ticklen=3, tickcolor="#000"),
    )

def yaxis(domain, anchor, side="left", overlay=None, grid=True):
    d = dict(
        domain=domain, anchor=anchor, range=[36, 108], tickmode="array", tickvals=Y_TICKS,
        ticks="outside", ticklen=6, tickcolor="#000", tickfont=tickfont, side=side,
        showline=True, linecolor="#000", linewidth=1.5, zeroline=False, automargin=False,
        showgrid=grid, gridcolor="#a9a9a9", gridwidth=1.6,
        minor=dict(dtick=3, tick0=36, showgrid=grid, gridcolor="#bdb6a6", griddash="dash",
                   gridwidth=0.8, ticks="outside", ticklen=3, tickcolor="#000"),
    )
    if overlay:
        d["overlaying"] = overlay
    return d

fig.update_layout(
    width=W, height=H, paper_bgcolor="white", plot_bgcolor=BG,
    margin=dict(l=0, r=0, t=0, b=0, autoexpand=False),
    xaxis=xaxis("y", "%H:%M"),
    xaxis2=xaxis("y2", "%H:%M:%S"),
    yaxis=yaxis(TOP_D, "x"),
    yaxis2=yaxis(BOT_D, "x2"),
    yaxis3=yaxis(TOP_D, "x", side="right", overlay="y", grid=False),
    yaxis4=yaxis(BOT_D, "x2", side="right", overlay="y2", grid=False),
    font=dict(family=DEJA, color="#000"),
    showlegend=False, bargap=0,
)

# ---- hand-drawn legends (two-column box on top, one-column box below) ----
shapes = []
ann = []
LBOX = dict(line=dict(color="#dcc59c", width=1.2), fillcolor="rgba(255,249,232,0.85)")
shapes.append(dict(type="rect", xref="paper", yref="paper", layer="above",
                   x0=px(2157), x1=px(2337), y0=py(583), y1=py(540), **LBOX))
for k, (pn, pc, an, ac) in enumerate(TOP_LEGEND):
    yc = 550 + 11.5 * k
    shapes.append(dict(type="circle", xref="paper", yref="paper", layer="above",
                       x0=px(2166.5), x1=px(2171.5), y0=py(yc + 2.5), y1=py(yc - 2.5),
                       fillcolor=pc, line=dict(width=0)))
    shapes.append(dict(type="line", xref="paper", yref="paper", layer="above",
                       x0=px(2257), x1=px(2280), y0=py(yc), y1=py(yc),
                       line=dict(color=ac, width=4)))
    ann.append(dict(text=pn, x=px(2185), y=py(yc), xanchor="left", yanchor="middle",
                    xref="paper", yref="paper", showarrow=False,
                    font=dict(family=SANS, size=10.5, color="#000")))
    ann.append(dict(text=an, x=px(2285), y=py(yc), xanchor="left", yanchor="middle",
                    xref="paper", yref="paper", showarrow=False,
                    font=dict(family=SANS, size=10.5, color="#000")))
shapes.append(dict(type="rect", xref="paper", yref="paper", layer="above",
                   x0=px(2276), x1=px(2338), y0=py(1143), y1=py(1103), **LBOX))
for k, (nm, c) in enumerate(BOT_LEGEND):
    yc = 1112 + 11 * k
    shapes.append(dict(type="line", xref="paper", yref="paper", layer="above",
                       x0=px(2279), x1=px(2301), y0=py(yc), y1=py(yc),
                       line=dict(color=c, width=4)))
    ann.append(dict(text=nm, x=px(2306), y=py(yc), xanchor="left", yanchor="middle",
                    xref="paper", yref="paper", showarrow=False,
                    font=dict(family=SANS, size=10.5, color="#000")))

ann.append(dict(text="<b>data from [421/mic0]<br>starting point is [20231209_000051]</b>",
                x=px(23), y=py(9), xref="paper", yref="paper", xanchor="left", yanchor="top",
                align="left", showarrow=False, font=dict(family=DEJA, size=12.5, color="#000")))
ann.append(dict(text="<b>average and peak noise level (1 min sampling)</b>",
                x=px(58), y=py(78), xref="paper", yref="paper", xanchor="left", yanchor="bottom",
                showarrow=False, font=dict(family=SANS, size=10.5, color="#000")))
ann.append(dict(text="<b>average noise level (5 min with 15s min/max dB envelope)</b>",
                x=px(58), y=py(638), xref="paper", yref="paper", xanchor="left", yanchor="bottom",
                showarrow=False, font=dict(family=SANS, size=10.5, color="#000")))
for yc in [(84 + 588) / 2, (644 + 1149) / 2]:
    for xc in [18, 2382]:
        ann.append(dict(text="dB SPL", x=px(xc), y=py(yc), xref="paper", yref="paper",
                        textangle=-90, showarrow=False, font=dict(family=DEJA, size=12, color="#000")))
for yc in [620, 1183]:
    ann.append(dict(text="time", x=px((58 + 2343) / 2), y=py(yc), xref="paper", yref="paper",
                    showarrow=False, font=dict(family=DEJA, size=12, color="#000")))
fig.update_layout(annotations=ann, shapes=shapes)

fig.write_html("out.html")
